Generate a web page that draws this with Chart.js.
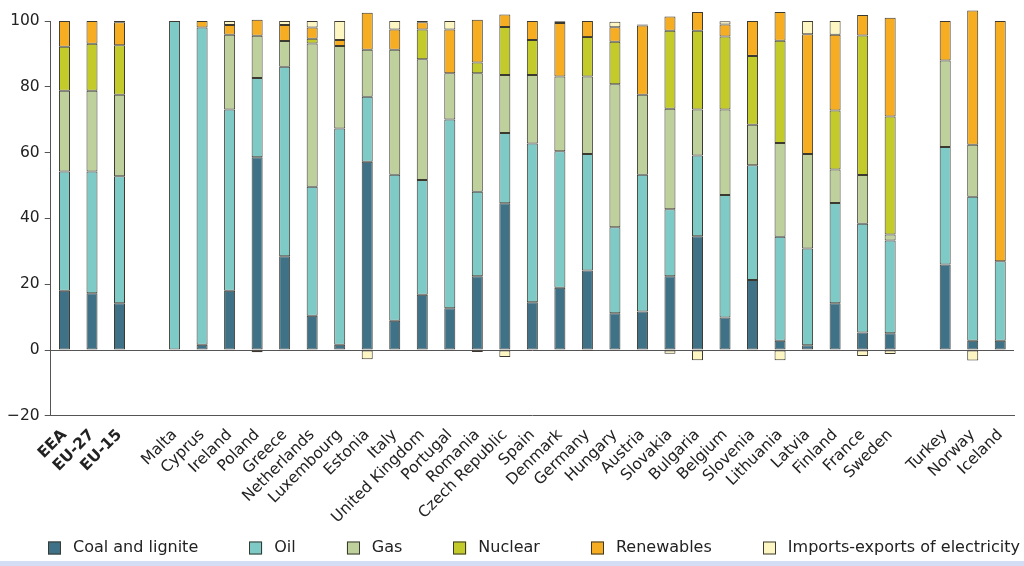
<!DOCTYPE html>
<html>
<head>
<meta charset="utf-8">
<script src="https://cdn.jsdelivr.net/npm/chart.js@4/dist/chart.umd.min.js"></script>
<style>
    body { margin: 0; background: #fff; }
    #wrap { position: relative; width: 1024px; height: 566px; }
    #strip { position: absolute; left: 0; bottom: 0; width: 1024px; height: 5px; background: #d3def5; }
</style>
</head>
<body>
<div id="wrap">
    <canvas id="energyChart" width="1024" height="561"></canvas>
    <div id="strip"></div>
</div>
<script>
// categories ('' = empty slot between groups)
const countries = ['EEA', 'EU-27', 'EU-15', '', 'Malta', 'Cyprus', 'Ireland', 'Poland', 'Greece', 'Netherlands',
    'Luxembourg', 'Estonia', 'Italy', 'United Kingdom', 'Portugal', 'Romania', 'Czech Republic', 'Spain',
    'Denmark', 'Germany', 'Hungary', 'Austria', 'Slovakia', 'Bulgaria', 'Belgium', 'Slovenia', 'Lithuania',
    'Latvia', 'Finland', 'France', 'Sweden', '', 'Turkey', 'Norway', 'Iceland'];

// share of total energy consumption (%)
const coal = [18.0, 17.3, 14.2, null, 0, 1.6, 18.0, 58.6, 28.5, 10.4, 1.6, 57.2, 8.9, 16.8, 12.7, 22.4, 44.6, 14.5,
    18.9, 24.2, 11.2, 11.7, 22.4, 34.6, 9.9, 21.3, 2.8, 1.5, 14.2, 5.3, 5.1, null, 26.0, 2.8, 2.8];
const oil = [36.3, 37.0, 38.6, null, 100, 96.4, 55.1, 24.1, 57.6, 39.2, 65.7, 19.8, 44.4, 34.9, 57.4, 25.7, 21.4, 48.3,
    41.5, 35.4, 26.1, 41.6, 20.4, 24.5, 37.2, 34.9, 31.6, 29.4, 30.5, 33.1, 28.2, null, 35.7, 43.8, 24.2];
const gas = [24.5, 24.5, 24.8, null, 0, 0, 22.7, 12.8, 7.8, 43.6, 25.1, 14.3, 38.0, 36.7, 14.0, 36.0, 17.6, 20.8,
    22.7, 23.5, 43.5, 24.3, 30.5, 14.0, 26.0, 12.3, 28.5, 28.7, 10.2, 14.8, 1.8, null, 26.3, 15.8, 0];
const nuclear = [13.4, 14.3, 15.0, null, 0, 0, 0, 0, 0, 1.4, 0, 0, 0, 9.0, 0, 3.3, 14.6, 10.6,
    0, 12.0, 12.9, 0, 23.7, 23.9, 22.2, 20.9, 31.1, 0, 17.9, 42.4, 35.9, null, 0, 0, 0];
const renewables = [7.8, 6.9, 7.0, null, 0, 2.0, 3.0, 4.9, 4.9, 3.4, 1.8, 11.2, 6.1, 2.2, 13.3, 13.0, 3.8, 5.8,
    16.3, 4.9, 4.4, 21.0, 4.4, 5.7, 3.6, 10.6, 8.7, 36.4, 23.0, 6.2, 30.0, null, 12.0, 40.8, 73.0];
const imports = [0, 0, 0.4, null, 0, 0, 1.2, -0.7, 1.2, 2.0, 5.8, -2.8, 2.6, 0.4, 2.6, -0.6, -2.1, -0.2,
    0.5, -0.3, 1.7, 0.3, -1.1, -3.1, 1.0, -0.2, -3.1, 4.0, 4.2, -1.8, -1.2, null, -0.2, -3.2, 0];

const yTicks = [-20, 0, 20, 40, 60, 80, 100];

const fontFamily = '"DejaVu Sans", Verdana, sans-serif';

function series(label, data, color) {
    return {
        label: label,
        data: data,
        backgroundColor: color,
        borderColor: '#3c3a30',
        borderWidth: 1,
        borderSkipped: false,
        barPercentage: 0.4,
        categoryPercentage: 1.0,
        clip: false
    };
}

const data = {
    labels: countries,
    datasets: [
        series('Coal and lignite', coal, '#3f7287'),
        series('Oil', oil, '#7ecac7'),
        series('Gas', gas, '#bed09b'),
        series('Nuclear', nuclear, '#c3cb2b'),
        series('Renewables', renewables, '#f6ad22'),
        series('Imports-exports of electricity', imports, '#fdf5c2')
    ]
};

// legend in one row along the bottom, stretched from left to right like the original
const bottomLegend = {
    id: 'bottomLegend',
    afterDraw(chart) {
        const { ctx } = chart;
        const box = 13;
        const textGap = 12;
        const left = 48, right = 1020;
        const y = 548;
        const sets = chart.data.datasets;
        ctx.save();
        ctx.font = '16px ' + fontFamily;
        ctx.textBaseline = 'middle';
        ctx.textAlign = 'left';
        const widths = sets.map(ds => ctx.measureText(ds.label).width);
        const used = widths.reduce((a, w) => a + w + box + textGap, 0);
        const gap = (right - left - used) / (sets.length - 1);
        let x = left;
        sets.forEach((ds, i) => {
            ctx.fillStyle = ds.backgroundColor;
            ctx.fillRect(x, y - box / 2, box, box);
            ctx.strokeStyle = '#3a3a30';
            ctx.lineWidth = 1;
            ctx.strokeRect(Math.round(x) + 0.5, y - box / 2 + 0.5, box - 1, box - 1);
            ctx.fillStyle = '#222';
            ctx.fillText(ds.label, x + box + textGap, y);
            x += box + textGap + widths[i] + gap;
        });
        ctx.restore();
    }
};

const config = {
    type: 'bar',
    data: data,
    options: {
        responsive: false,
        animation: false,
        layout: { padding: { top: 21, left: 2, right: 10, bottom: 32 } },
        plugins: {
            legend: { display: false },
            tooltip: { enabled: false }
        },
        scales: {
            x: {
                stacked: true,
                grid: { display: false },
                border: { display: true, color: '#555', width: 1 },
                ticks: {
                    autoSkip: false,
                    minRotation: 45,
                    maxRotation: 45,
                    padding: 2,
                    color: '#222',
                    font: function (ctx) {
                        return { family: fontFamily, size: 15.5, weight: ctx.index < 3 ? 'bold' : 'normal' };
                    }
                }
            },
            y: {
                stacked: true,
                min: yTicks[0],
                max: yTicks[yTicks.length - 1],
                afterBuildTicks: function (axis) {
                    axis.ticks = yTicks.map(v => ({ value: v }));
                },
                grid: {
                    drawOnChartArea: true,
                    color: ctx => (ctx.tick && ctx.tick.value === 0) ? '#555' : 'rgba(0,0,0,0)',
                    tickColor: '#555',
                    tickLength: 6
                },
                border: { display: true, color: '#555', width: 1 },
                ticks: {
                    padding: 5,
                    color: '#222',
                    font: { family: fontFamily, size: 15.5 },
                    callback: value => String(value).replace('-', '\u2212')
                }
            }
        }
    },
    plugins: [bottomLegend]
};

const myChart = new Chart(document.getElementById('energyChart'), config);
</script>
</body>
</html>
